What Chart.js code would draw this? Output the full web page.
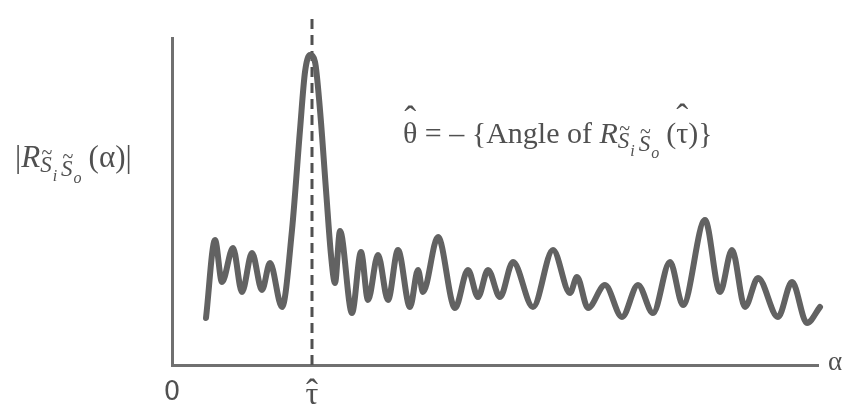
<!DOCTYPE html>
<html>
<head>
<meta charset="utf-8">
<script src="https://cdn.jsdelivr.net/npm/chart.js@4.4.0/dist/chart.umd.min.js"></script>
<style>
  html, body { margin: 0; padding: 0; background: #fff; }
</style>
</head>
<body>
<canvas id="chart" width="844" height="410"></canvas>
<script>
// lag values (alpha) and correlation magnitude
const alphaValues = [34, 43, 50, 61, 70, 80, 90, 98, 110, 120, 128, 133, 138, 143, 148, 154, 159, 163, 168,
  180, 189, 196, 206, 216, 226, 238, 246, 251, 266, 283, 296, 306, 316, 328, 341, 361, 381, 398, 405,
  416, 433, 450, 466, 481, 498, 511, 533, 548, 560, 573, 586, 606, 620, 635, 648];
const magnitudeValues = [47, 125, 83, 117, 73, 112, 75, 102, 58, 135, 235, 293, 310, 303, 255, 175, 110, 82, 134,
  52, 113, 65, 110, 65, 115, 58, 95, 73, 128, 57, 95, 68, 95, 68, 103, 58, 115, 72, 88,
  57, 80, 48, 80, 52, 103, 60, 145, 73, 115, 58, 87, 48, 83, 42, 58];

const tauHat = 140;
const tickValues = [0, tauHat];
const tickLabels = ["0", "\u03C4"];
const markerTop = 350;

const gray = "#505050";
const serif = '"Liberation Serif", "DejaVu Serif", serif';

function drawPieces(ctx, x, y, pieces) {
    for (const p of pieces) {
        x += p.gap || 0;
        ctx.font = p.font;
        const w = ctx.measureText(p.t).width;
        ctx.fillText(p.t, x, y + (p.dy || 0));
        if (p.acc) {
            ctx.font = p.accFont;
            const aw = ctx.measureText(p.acc).width;
            ctx.fillText(p.acc, x + (w - aw) / 2 + (p.accDx || 0), y + (p.dy || 0) + p.accDy);
        }
        x += w;
    }
}

const textPlugin = {
    id: "mathText",
    afterDraw(chart) {
        const ctx = chart.ctx;
        const xs = chart.scales.x;
        const ys = chart.scales.y;
        ctx.save();
        ctx.fillStyle = gray;
        ctx.textBaseline = "middle";
        ctx.font = "27px " + serif;
        ctx.fillText("\u03B1", xs.right + 10, ys.bottom - 2);

        ctx.textBaseline = "alphabetic";
        // hat over the tau tick label
        ctx.font = "36px " + serif;
        const hw = ctx.measureText("\u02C6").width;
        ctx.fillText("\u02C6", xs.getPixelForValue(tauHat) - hw / 2, ys.bottom + 39);

        const big = "31px " + serif;
        const bigIt = "italic 31px " + serif;
        const sub = "italic 23px " + serif;
        const sub2 = "italic 16px " + serif;
        const tilde = "20px " + serif;
        // y axis label |R_{S~i S~o}(alpha)|
        drawPieces(ctx, 15, 167, [
            { t: "|", font: big },
            { t: "R", font: bigIt },
            { t: "S", font: sub, dy: 5, acc: "~", accFont: tilde, accDy: -13, accDx: 1 },
            { t: "i", font: sub2, dy: 14, gap: 1 },
            { t: "S", font: sub, dy: 9, gap: 4, acc: "~", accFont: tilde, accDy: -13, accDx: 1 },
            { t: "o", font: sub2, dy: 16, gap: 1 },
            { t: "(\u03B1)|", font: big, gap: 7 }
        ]);

        // annotation
        const ann = "30px " + serif;
        const annIt = "italic 30px " + serif;
        const hat = "36px " + serif;
        drawPieces(ctx, 403, 143, [
            { t: "\u03B8", font: ann, acc: "\u02C6", accFont: hat, accDy: -12 },
            { t: " = \u2013 {Angle of ", font: ann },
            { t: "R", font: annIt },
            { t: "S", font: sub, dy: 5, acc: "~", accFont: tilde, accDy: -13, accDx: 1 },
            { t: "i", font: sub2, dy: 13, gap: 1 },
            { t: "S", font: sub, dy: 8, gap: 4, acc: "~", accFont: tilde, accDy: -13, accDx: 1 },
            { t: "o", font: sub2, dy: 15, gap: 1 },
            { t: "(", font: ann, gap: 7 },
            { t: "\u03C4", font: ann, acc: "\u02C6", accFont: hat, accDy: -14 },
            { t: ")}", font: ann }
        ]);
        ctx.restore();
    }
};

new Chart(document.getElementById("chart"), {
    type: "line",
    data: {
        datasets: [
            {
                data: alphaValues.map((a, i) => ({ x: a, y: magnitudeValues[i] })),
                borderColor: "#626262",
                borderWidth: 6,
                pointRadius: 0,
                cubicInterpolationMode: "monotone",
                borderCapStyle: "round",
                borderJoinStyle: "round",
                clip: false
            },
            {
                data: [{ x: tauHat, y: 0 }, { x: tauHat, y: markerTop }],
                borderColor: gray,
                borderWidth: 3,
                borderDash: [10, 6],
                pointRadius: 0,
                clip: false
            }
        ]
    },
    options: {
        responsive: false,
        animation: false,
        layout: { padding: { left: 172, right: 26, top: 38, bottom: 0 } },
        plugins: { legend: { display: false }, tooltip: { enabled: false } },
        scales: {
            x: {
                type: "linear",
                min: 0,
                max: 646,
                grid: { display: false, drawTicks: false },
                border: { color: "#707070", width: 3 },
                afterBuildTicks: (axis) => { axis.ticks = tickValues.map((v) => ({ value: v })); },
                afterFit: (axis) => { axis.height = 45; },
                ticks: {
                    autoSkip: false,
                    maxRotation: 0,
                    padding: 15,
                    color: gray,
                    font: (c) => (c.index === 0
                        ? { family: '"DejaVu Sans"', size: 26, lineHeight: 1 }
                        : { family: '"Liberation Serif"', size: 32, lineHeight: 1 }),
                    callback: (v) => tickLabels[tickValues.indexOf(v)]
                }
            },
            y: {
                min: 0,
                max: 327,
                grid: { display: false, drawTicks: false },
                border: { color: "#707070", width: 3 },
                ticks: { display: false }
            }
        }
    },
    plugins: [textPlugin]
});
</script>
</body>
</html>
